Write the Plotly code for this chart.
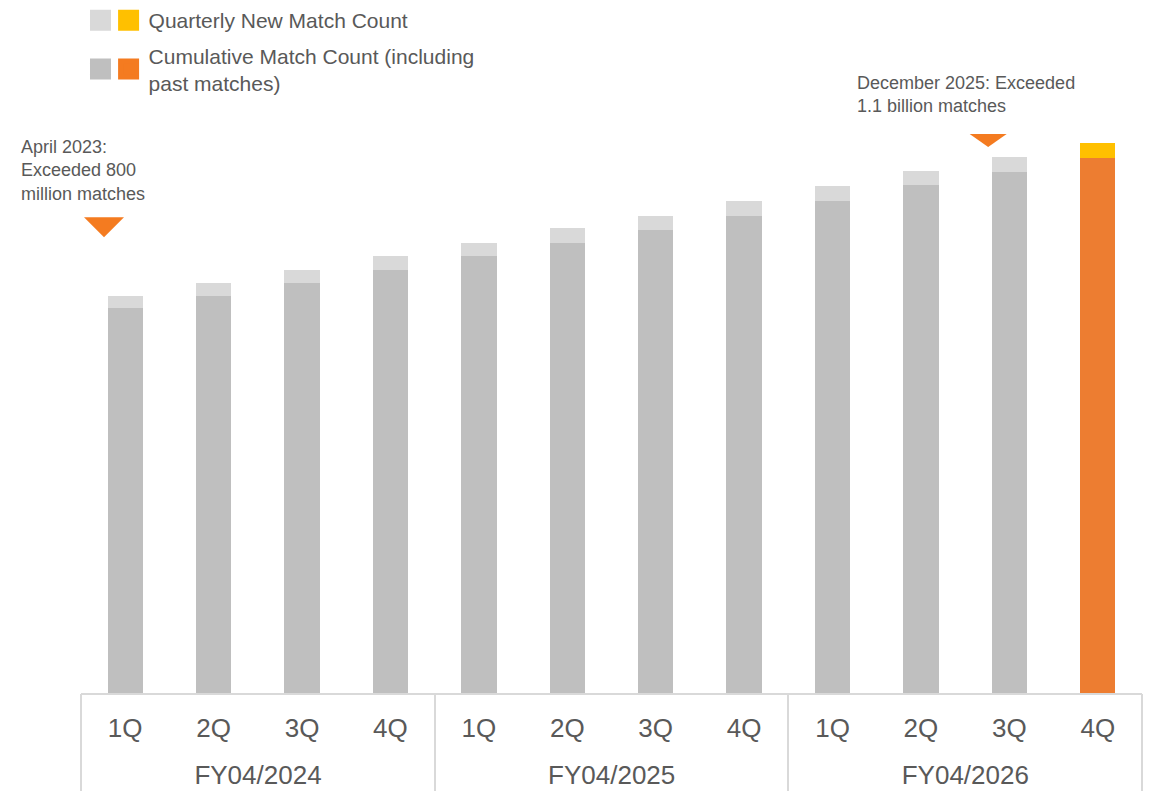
import plotly.graph_objects as go

# ---- data (millions of matches) ----
fiscal_years = ["FY04/2024", "FY04/2025", "FY04/2026"]
quarters = ["1Q", "2Q", "3Q", "4Q"] * 3
cumulative = [790, 815, 842, 868, 897, 925, 951, 979, 1011, 1043, 1070, 1098]
quarterly_new = [25, 27, 27, 29, 28, 29, 28, 31, 30, 29, 30, 32]

legend_new = "Quarterly New Match Count"
legend_cum = "Cumulative Match Count (including<br>past matches)"

milestone_text = ["April 2023:<br>Exceeded 800<br>million matches",
                  "December 2025: Exceeded<br>1.1 billion matches"]
milestone_x = [-0.24, 9.76]       # quarter-index position of the markers
milestone_y = [977, 1148]          # value level of the markers' top edge

# ---- styles ----
FONT = "Liberation Sans, Arial, sans-serif"
TXT = "#595959"
GRAY = "#BFBFBF"
LIGHT = "#D9D9D9"
ORANGE = "#ED7D31"
ORANGE2 = "#F47B20"
YELLOW = "#FFC000"

n = len(quarters)
per_year = n // len(fiscal_years)
idx = list(range(n))
hist = idx[:-1]
last = idx[-1:]
group_bounds = [i * per_year - 0.5 for i in range(len(fiscal_years) + 1)]


def pick(arr, ii):
    return [arr[i] for i in ii]


fig = go.Figure()
# cumulative (bottom)
fig.add_bar(x=hist, y=pick(cumulative, hist), marker_color=GRAY, marker_line_width=0,
            width=0.4, showlegend=False)
fig.add_bar(x=last, y=pick(cumulative, last), marker_color=ORANGE, marker_line_width=0,
            width=0.4, showlegend=False)
# quarterly new (top)
fig.add_bar(x=hist, y=pick(quarterly_new, hist), marker_color=LIGHT, marker_line_width=0,
            width=0.4, showlegend=False)
fig.add_bar(x=last, y=pick(quarterly_new, last), marker_color=YELLOW, marker_line_width=0,
            width=0.4, showlegend=False)

# legend swatches (two squares per entry)
for name, c_left, c_right, grp in [(legend_new, LIGHT, YELLOW, "new"), (legend_cum, GRAY, ORANGE2, "cum")]:
    blank = "<br>".join(["\u00a0"] * (name.count("<br>") + 1))
    fig.add_scatter(x=[0], y=[None], xaxis="x2", mode="markers", name=blank, legendgroup=grp,
                    marker=dict(symbol="square", size=16, color=c_left, line=dict(color=c_left, width=5)),
                    legend="legend", hoverinfo="skip")
    fig.add_scatter(x=[0], y=[None], xaxis="x2", mode="markers", name=name, legendgroup=grp,
                    marker=dict(symbol="square", size=16, color=c_right, line=dict(color=c_right, width=5)),
                    legend="legend2", hoverinfo="skip")

# milestone markers (downward triangles)
tri_paths = ["M-20,0 L20,0 L0,-20 Z", "M-18.5,0 L18.5,0 L0,-13 Z"]
for xp, yp, path in zip(milestone_x, milestone_y, tri_paths):
    fig.add_shape(type="path", xref="x", yref="y", xsizemode="pixel", ysizemode="pixel",
                  xanchor=xp, yanchor=yp, path=path, fillcolor=ORANGE2, line_width=0)

fig.add_annotation(text=milestone_text[0], xref="paper", yref="paper", x=-0.0585, y=0.805,
                   xanchor="left", yanchor="top", align="left", showarrow=False,
                   font=dict(family=FONT, size=18, color=TXT))
fig.add_annotation(text=milestone_text[1], xref="paper", yref="paper", x=0.7295, y=0.8975,
                   xanchor="left", yanchor="top", align="left", showarrow=False,
                   font=dict(family=FONT, size=18, color=TXT))

leg_common = dict(yanchor="top", xanchor="left", bgcolor="rgba(0,0,0,0)", borderwidth=0,
                  traceorder="grouped", tracegroupgap=5, itemclick=False, itemdoubleclick=False,
                  valign="middle")
fig.update_layout(
    width=1151, height=791,
    margin=dict(l=81, r=9, t=0, b=98),
    paper_bgcolor="white", plot_bgcolor="white",
    barmode="stack",
    font=dict(family=FONT, color=TXT),
    legend=dict(x=-0.0005, y=1.0, font=dict(family=FONT, size=21, color="rgba(0,0,0,0)"), **leg_common),
    legend2=dict(x=0.026, y=1.0, font=dict(family=FONT, size=21, color=TXT), **leg_common),
    xaxis=dict(range=[-0.5, n - 0.5], tickmode="array", tickvals=idx, ticktext=quarters,
               ticks="outside", ticklen=11, tickcolor="rgba(0,0,0,0)", automargin=False,
               showline=True, linecolor=LIGHT, linewidth=2, showgrid=False, zeroline=False,
               tickfont=dict(family=FONT, size=26, color=TXT)),
    xaxis2=dict(overlaying="x", anchor="y", side="bottom", range=[-0.5, n - 0.5],
                tickmode="array", tickvals=group_bounds, ticktext=fiscal_years + ["\u00a0"],
                ticks="outside", ticklen=98, tickwidth=2, tickcolor=LIGHT, automargin=False,
                ticklabelshift=177, ticklabelstandoff=-39,
                showline=False, showgrid=False, zeroline=False,
                tickfont=dict(family=FONT, size=26, color=TXT)),
    yaxis=dict(range=[0, 1423], visible=False, showgrid=False, zeroline=False, automargin=False),
)

fig.write_html("out.html")
